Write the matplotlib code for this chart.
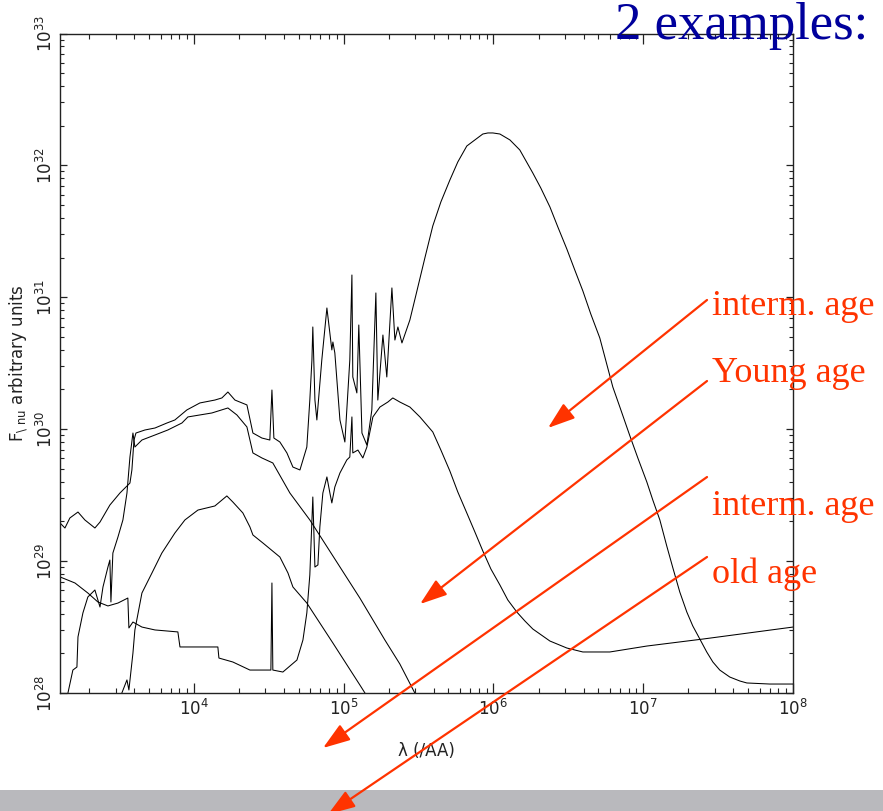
import numpy as np
import matplotlib
matplotlib.use("Agg")
import matplotlib.pyplot as plt
from matplotlib.patches import Rectangle, FancyArrowPatch

# log10(wavelength / Angstrom) and log10(F_nu) for the four model SEDs
logw_dusty = [3.106, 3.139, 3.172, 3.226, 3.272, 3.339, 3.373, 3.439, 3.506, 3.573,
              3.586, 3.600, 3.613, 3.673, 3.740, 3.820, 3.873, 3.953, 4.040, 4.140,
              4.187, 4.227, 4.274, 4.354, 4.394, 4.454, 4.507, 4.521, 4.534, 4.574,
              4.621, 4.661, 4.708, 4.754, 4.774, 4.788, 4.794, 4.808, 4.821, 4.854,
              4.888, 4.921, 4.928, 4.941, 4.975, 5.008, 5.041, 5.055, 5.061, 5.088,
              5.101, 5.122, 5.155, 5.188, 5.215, 5.228, 5.262, 5.288, 5.322, 5.342,
              5.362, 5.389, 5.442, 5.489, 5.542, 5.595, 5.649, 5.709, 5.762, 5.822,
              5.876, 5.929, 5.963, 5.996, 6.043, 6.110, 6.176, 6.263, 6.316, 6.377,
              6.430, 6.490, 6.543, 6.597, 6.650, 6.710, 6.797, 6.844, 6.911, 6.964,
              7.024, 7.064, 7.111, 7.157, 7.198, 7.244, 7.291, 7.331, 7.378, 7.424,
              7.465, 7.511, 7.578, 7.645, 7.692, 7.845, 8.000]
logf_dusty = [29.289, 29.251, 29.327, 29.372, 29.312, 29.251, 29.296, 29.425, 29.516, 29.592,
              29.691, 29.918, 29.971, 29.994, 30.009, 30.047, 30.070, 30.146, 30.199, 30.221,
              30.237, 30.282, 30.221, 30.184, 29.971, 29.933, 29.918, 30.297, 29.933, 29.903,
              29.820, 29.713, 29.691, 29.865, 30.221, 30.525, 30.775, 30.221, 30.070, 30.525,
              30.919, 30.601, 30.661, 30.578, 30.070, 29.903, 30.525, 31.169, 30.396, 30.275,
              30.790, 29.971, 29.880, 30.146, 31.033, 30.221, 30.714, 30.396, 31.071, 30.676,
              30.775, 30.654, 30.828, 31.048, 31.298, 31.541, 31.723, 31.889, 32.026, 32.147,
              32.193, 32.238, 32.246, 32.246, 32.238, 32.193, 32.117, 31.942, 31.829, 31.685,
              31.533, 31.366, 31.207, 31.048, 30.873, 30.692, 30.320, 30.168, 29.949, 29.782,
              29.600, 29.463, 29.312, 29.115, 28.948, 28.766, 28.614, 28.508, 28.409, 28.311,
              28.235, 28.174, 28.121, 28.091, 28.076, 28.068, 28.068]

logw_star_a = [3.159, 3.192, 3.219, 3.226, 3.259, 3.292, 3.339, 3.373, 3.393, 3.426,
               3.439, 3.446, 3.459, 3.493, 3.526, 3.553, 3.573, 3.593, 3.606, 3.653,
               3.740, 3.826, 3.920, 3.960, 4.120, 4.227, 4.287, 4.354, 4.394, 4.454,
               4.527, 4.641, 4.774, 4.928, 5.108, 5.275, 5.375, 5.475]
logf_star_a = [28.000, 28.174, 28.197, 28.425, 28.607, 28.728, 28.781, 28.652, 28.804, 28.955,
               29.008, 28.690, 29.061, 29.183, 29.312, 29.516, 29.789, 29.971, 29.865, 29.918,
               29.956, 29.994, 30.047, 30.093, 30.123, 30.161, 30.108, 30.017, 29.820, 29.782,
               29.744, 29.516, 29.312, 29.039, 28.720, 28.402, 28.220, 28.000]

logw_star_b = [3.519, 3.553, 3.566, 3.593, 3.606, 3.653, 3.720, 3.786, 3.873, 3.940,
               4.027, 4.140, 4.220, 4.260, 4.327, 4.374, 4.394, 4.461, 4.574, 4.628,
               4.661, 4.754, 4.928, 5.108, 5.142]
logf_star_b = [28.000, 28.099, 28.023, 28.303, 28.478, 28.758, 28.910, 29.061, 29.213, 29.312,
               29.387, 29.418, 29.494, 29.448, 29.365, 29.259, 29.198, 29.137, 29.031, 28.910,
               28.804, 28.682, 28.379, 28.061, 28.000]

logw_pah = [3.106, 3.206, 3.292, 3.359, 3.426, 3.493, 3.559, 3.566, 3.593, 3.653,
            3.740, 3.893, 3.907, 4.160, 4.167, 4.260, 4.374, 4.487, 4.514, 4.521,
            4.527, 4.594, 4.688, 4.728, 4.754, 4.774, 4.794, 4.808, 4.828, 4.841,
            4.861, 4.888, 4.908, 4.921, 4.941, 4.975, 5.021, 5.041, 5.055, 5.061,
            5.095, 5.128, 5.155, 5.195, 5.242, 5.295, 5.328, 5.375, 5.442, 5.509,
            5.595, 5.649, 5.709, 5.762, 5.822, 5.876, 5.929, 5.983, 6.043, 6.096,
            6.156, 6.210, 6.263, 6.377, 6.490, 6.597, 6.777, 7.024, 7.398, 8.000]
logf_pah = [28.880, 28.834, 28.758, 28.690, 28.660, 28.682, 28.720, 28.493, 28.538, 28.500,
            28.478, 28.463, 28.349, 28.349, 28.265, 28.235, 28.174, 28.174, 28.174, 28.834,
            28.174, 28.159, 28.250, 28.402, 28.607, 28.895, 29.486, 28.955, 28.971, 29.259,
            29.516, 29.638, 29.516, 29.441, 29.562, 29.668, 29.767, 29.789, 30.093, 29.820,
            29.842, 29.782, 29.865, 30.093, 30.168, 30.206, 30.237, 30.206, 30.168, 30.093,
            29.979, 29.842, 29.683, 29.524, 29.365, 29.221, 29.077, 28.940, 28.819, 28.705,
            28.614, 28.546, 28.485, 28.394, 28.341, 28.311, 28.311, 28.356, 28.409, 28.500]

x_range = (10 ** 3.106, 1e8)
y_range = (1e28, 1e33)

age_labels = ["interm. age", "Young age", "interm. age", "old age"]
# (arrow start, arrow tip) in figure fraction
label_arrows = [((0.8007, 0.6301), (0.6206, 0.4723)),
                ((0.8007, 0.5302), (0.4757, 0.2552)),
                ((0.8007, 0.4118), (0.3658, 0.0777)),
                ((0.8007, 0.3132), (0.3715, -0.004))]
label_baselines = [0.6116, 0.5290, 0.3650, 0.2811]

RED = "#ff3300"
NAVY = "#00009c"

plt.rcParams['font.family'] = ['DejaVu Sans']
plt.rcParams['mathtext.default'] = 'regular'

fig = plt.figure(figsize=(8.83, 8.11), dpi=100)
ax = fig.add_axes([60 / 883, 1 - 693 / 811, 733 / 883, 659.5 / 811])

for lw_, lf_ in [(logw_pah, logf_pah), (logw_star_b, logf_star_b),
                 (logw_star_a, logf_star_a), (logw_dusty, logf_dusty)]:
    ax.plot(10 ** np.array(lw_), 10 ** np.array(lf_), color='black', lw=0.75)

ax.set_xscale('log')
ax.set_yscale('log')
ax.set_xlim(*x_range)
ax.set_ylim(*y_range)

for sp in ax.spines.values():
    sp.set_linewidth(1.0)
    sp.set_color('#222222')

ax.tick_params(which='both', direction='in', top=True, right=True, colors='#222222')
ax.tick_params(axis='x', which='major', length=7, width=0.9, labelsize=12, pad=4)
ax.tick_params(axis='x', which='minor', length=3.5, width=0.8)
ax.tick_params(axis='y', which='major', length=5, width=0.9, labelsize=12, pad=3,
               labelrotation=90)
ax.tick_params(axis='y', which='minor', length=3, width=0.8)
plt.setp(ax.get_yticklabels(), va='center')

ax.set_xlabel("λ (/AA)", fontsize=12, labelpad=17, color='#222222')
ax.set_ylabel(r"F$_{\backslash\ nu}$ arbitrary units", fontsize=12, labelpad=4,
              color='#222222')

# heading and age annotations
fig.text(0.983, 1 - 39 / 811, "2 examples:", ha='right', va='baseline',
         fontsize=38, color=NAVY, family='Liberation Serif', zorder=5)

for text, yb in zip(age_labels, label_baselines):
    fig.text(0.8063, yb, text, ha='left', va='baseline', fontsize=26,
             color=RED, family='Liberation Serif', zorder=5)

# grey strip along the bottom edge
fig.add_artist(Rectangle((0, 0), 1, 21 / 811, transform=fig.transFigure,
                         facecolor='#b9b9bd', edgecolor='none', zorder=1))

for start, tip in label_arrows:
    fig.add_artist(FancyArrowPatch(start, tip, transform=fig.transFigure,
                                   arrowstyle='-|>,head_length=1.1,head_width=0.38',
                                   mutation_scale=15, color=RED, lw=1.6,
                                   shrinkA=0, shrinkB=0, zorder=6))

fig.savefig("out.png", dpi=100)
